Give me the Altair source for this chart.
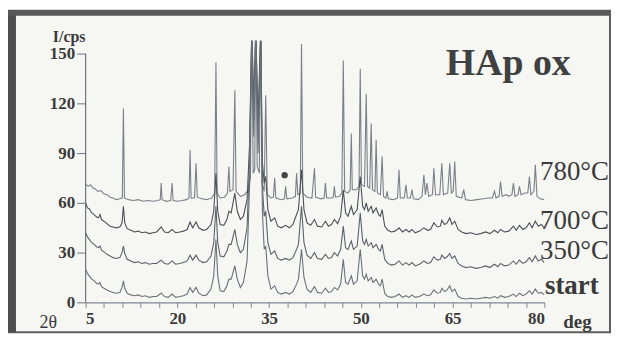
import altair as alt
import pandas as pd

# ---------------- data ----------------
series_names = ["780°C", "700°C", "350°C", "start"]
series_colors = ["#7b8088", "#4d5058", "#5c6269", "#6b7178"]

pts_780 = [(5.0,71.5),(5.4,70),(5.8,71),(6.2,69),(6.6,68.5),(7.0,67),(7.5,67.5),(8.0,65.5),(8.5,65),(9.0,63.5),(9.5,63),(10.0,62),(10.6,62.5),(11.0,63),(11.18,117),(11.35,63),(12.0,62),(12.8,61.5),(13.6,62),(14.4,61),(15.2,61.5),(16.0,61),(16.8,61.5),(17.2,62),(17.36,72),(17.5,62),(18.2,61),(18.9,61.5),(19.15,72),(19.3,61.5),(20.0,61),(20.8,61.5),(21.5,62),(21.9,63),(22.08,92),(22.25,63),(22.8,63),(23.06,84),(23.25,63.5),(24.0,62.5),(24.8,62),(25.6,63),(26.1,66),(26.31,145),(26.5,66),(27.0,63),(27.7,63.5),(28.2,66),(28.43,82),(28.6,67),(29.1,68),(29.4,128),(29.6,67),(30.3,64),(31.0,65),(31.6,68),(31.95,75),(32.17,170),(32.4,78),(32.65,80),(32.82,170),(33.05,82),(33.4,78),(33.63,170),(33.85,72),(34.2,67),(34.45,125),(34.7,65),(35.3,63),(35.7,63.5),(35.91,75),(36.1,63),(37.0,62),(37.5,62.5),(37.7,70),(37.9,62.5),(38.8,63),(39.3,64),(39.49,78),(39.7,65),(40.1,66),(40.3,156),(40.5,66),(41.2,63.5),(42.0,63),(42.42,81),(42.6,63.5),(43.5,62.5),(44.0,63),(44.21,72),(44.4,63),(45.2,63),(45.5,63.5),(45.67,70),(45.85,63.5),(46.5,64),(46.9,66),(47.13,146),(47.35,67),(47.9,66),(48.25,68),(48.44,102),(48.6,68),(49.3,68),(49.7,70),(49.9,141),(50.1,71),(50.6,70),(50.88,126),(51.1,70),(51.45,69),(51.69,108),(51.9,68),(52.3,67),(52.5,98),(52.7,66),(53.2,65),(53.48,88),(53.7,64),(54.1,63),(54.29,67),(54.5,62.5),(55.3,62),(56.0,63),(56.24,80),(56.45,63),(57.1,63),(57.38,71),(57.6,63),(58.1,63),(58.36,68),(58.6,62.5),(59.4,62),(60.0,64),(60.31,77),(60.55,65),(60.8,72),(61.1,64),(61.7,65),(61.94,81),(62.2,65),(62.9,65),(63.24,84),(63.5,65),(64.2,66),(64.54,84),(64.8,66),(65.1,67),(65.35,85),(65.6,64),(66.5,63),(66.82,68),(67.1,62),(68.0,61.5),(69.0,62),(70.0,62.5),(70.8,63),(71.5,63),(71.86,67),(72.1,63),(72.6,64),(72.84,73),(73.1,64),(73.8,65),(74.2,64),(74.7,65),(74.95,72),(75.2,64),(75.7,65),(75.93,70),(76.2,65),(76.8,66),(77.3,66),(77.56,76),(77.8,65),(78.3,67),(78.53,83),(78.8,64),(79.3,62.5),(80.0,62)]

pts_700 = [(5.0,60),(5.3,57),(5.6,56.5),(6.0,54),(6.4,53),(6.8,51.5),(7.1,51),(7.35,53),(7.6,50),(8.0,49),(8.5,47.5),(9.0,46),(9.5,45.5),(10.0,45),(10.6,45.5),(10.95,48),(11.18,58),(11.4,48),(11.8,44.5),(12.4,43.5),(13.0,42.5),(13.6,43),(14.2,42),(14.8,42.5),(15.4,41.5),(16.0,42),(16.6,42.5),(17.36,45.5),(17.9,42.5),(18.5,42),(19.15,44),(19.7,42),(20.4,42.5),(21.0,43),(21.6,44),(22.08,48.5),(22.5,45),(23.06,48.5),(23.5,45),(24.2,43.5),(24.8,44),(25.5,47),(25.95,55),(26.31,78),(26.6,55),(27.0,47),(27.6,46.5),(28.1,50),(28.43,55),(28.8,54),(29.4,66),(29.8,55),(30.3,50),(30.8,52),(31.4,62),(31.8,95),(32.17,165),(32.5,120),(32.82,165),(33.2,110),(33.63,165),(33.9,85),(34.2,72),(34.45,76),(34.8,56),(35.3,49),(35.91,51),(36.4,46),(37.0,45),(37.7,46.5),(38.3,45),(38.9,47),(39.49,53),(39.8,56),(40.3,80),(40.7,56),(41.2,48),(41.8,46.5),(42.42,50),(42.9,46),(43.6,45.5),(44.21,49),(44.7,46),(45.2,47),(45.67,50),(46.2,47.5),(46.7,52),(47.13,68),(47.5,54),(47.9,52),(48.44,58),(48.8,53),(49.4,56),(49.9,76),(50.3,58),(50.6,56),(50.88,60),(51.2,55),(51.69,58),(52.0,54),(52.5,57),(52.9,53),(53.2,52),(53.48,56),(53.9,46),(54.4,43.5),(55.0,42.5),(55.6,43),(56.24,45),(56.8,42.5),(57.38,44),(57.9,42.5),(58.36,44),(58.9,42),(59.6,43),(60.31,45),(60.9,43.5),(61.4,44),(61.94,48),(62.5,45.5),(63.0,46),(63.24,49.5),(63.7,47),(64.1,48),(64.54,51),(64.9,47),(65.35,49),(65.9,44),(66.5,42.5),(67.2,41.5),(68.0,42),(68.8,41),(69.6,41.5),(70.4,42.5),(71.1,41.5),(71.86,43.5),(72.4,42),(72.84,44),(73.5,42.5),(74.2,43),(74.95,46),(75.4,43.5),(75.93,46.5),(76.5,44),(77.0,45),(77.56,48),(78.0,45),(78.53,49),(79.0,46),(79.5,47),(80.0,45)]

pts_350 = [(5.0,42),(5.3,39.5),(5.6,38),(6.0,36),(6.4,35),(6.8,33.5),(7.1,33),(7.35,34),(7.6,31.5),(8.0,30.5),(8.5,29),(9.0,28),(9.5,27),(10.0,26.5),(10.6,27),(10.95,30),(11.18,34),(11.4,29.5),(11.8,26),(12.4,25),(13.0,24),(13.6,24.5),(14.2,23.5),(14.8,24),(15.4,23),(16.0,23.5),(16.6,23.5),(17.36,25.5),(17.9,23.5),(18.5,23),(19.15,25),(19.7,23),(20.4,23.5),(21.0,24),(21.6,25),(22.08,28.5),(22.5,25.5),(23.06,28.5),(23.5,25.5),(24.2,24),(24.8,24.5),(25.5,28),(25.95,36),(26.31,58),(26.6,36),(27.0,28),(27.6,27.5),(28.1,31),(28.43,35),(28.8,35),(29.4,44),(29.8,35),(30.3,30),(30.8,32),(31.4,45),(31.8,85),(32.17,165),(32.5,110),(32.82,165),(33.2,100),(33.63,165),(33.9,70),(34.2,52),(34.45,55),(34.8,36),(35.3,29),(35.91,31),(36.4,26.5),(37.0,25.5),(37.7,26.5),(38.3,25.5),(38.9,27),(39.49,32),(39.8,35),(40.3,58),(40.7,36),(41.2,28.5),(41.8,26.5),(42.42,30),(42.9,26.5),(43.6,26),(44.21,29),(44.7,26.5),(45.2,27),(45.67,30),(46.2,28),(46.7,32),(47.13,46),(47.5,33),(47.9,32),(48.44,37),(48.8,32),(49.4,34),(49.9,54),(50.3,37),(50.6,35),(50.88,38),(51.2,34),(51.69,36),(52.0,33),(52.5,35),(52.9,32),(53.2,31),(53.48,35),(53.9,26),(54.4,23.5),(55.0,22.5),(55.6,23),(56.24,25),(56.8,22.5),(57.38,24),(57.9,22.5),(58.36,24),(58.9,22),(59.6,23),(60.31,25),(60.9,23.5),(61.4,24),(61.94,27.5),(62.5,25.5),(63.0,26),(63.24,28.5),(63.7,26.5),(64.1,27.5),(64.54,29.5),(64.9,26.5),(65.35,28),(65.9,23.5),(66.5,22),(67.2,21),(68.0,21.5),(68.8,20.5),(69.6,21),(70.4,22),(71.1,21),(71.86,23),(72.4,21.5),(72.84,23.5),(73.5,22),(74.2,22.5),(74.95,25),(75.4,23),(75.93,25.5),(76.5,23.5),(77.0,24.5),(77.56,27),(78.0,24.5),(78.53,28),(79.0,25),(79.5,26),(80.0,24)]

pts_start = [(5.0,20),(5.3,17.5),(5.6,16),(6.0,14),(6.4,13),(6.8,11.5),(7.1,11),(7.35,12),(7.6,9.5),(8.0,8.5),(8.5,7.5),(9.0,6.5),(9.5,6),(10.0,5.5),(10.6,6),(10.95,9),(11.18,13),(11.4,8.5),(11.8,5.5),(12.4,4.5),(13.0,4),(13.6,4.5),(14.2,3.5),(14.8,4),(15.4,3),(16.0,3.5),(16.6,3.5),(17.36,5.5),(17.9,3.5),(18.5,3),(19.15,5),(19.7,3),(20.4,3.5),(21.0,4),(21.6,5),(22.08,9),(22.5,6),(23.06,9),(23.5,5.5),(24.2,4),(24.8,4.5),(25.5,8),(25.95,16),(26.31,38),(26.6,16),(27.0,7),(27.6,6.5),(28.1,10),(28.43,14),(28.8,14),(29.4,22),(29.8,14),(30.3,9),(30.8,12),(31.4,25),(31.8,70),(32.17,165),(32.5,100),(32.82,165),(33.2,90),(33.63,150),(33.9,55),(34.2,32),(34.45,34),(34.8,16),(35.3,8),(35.91,10),(36.4,6),(37.0,5),(37.7,6),(38.3,5),(38.9,6.5),(39.49,11),(39.8,14),(40.3,32),(40.7,15),(41.2,8),(41.8,6),(42.42,9.5),(42.9,6),(43.6,5.5),(44.21,8.5),(44.7,6),(45.2,6.5),(45.67,9),(46.2,7.5),(46.7,11),(47.13,26),(47.5,12),(47.9,11),(48.44,16),(48.8,11),(49.4,13),(49.9,32),(50.3,16),(50.6,14),(50.88,17),(51.2,13),(51.69,15),(52.0,12),(52.5,14),(52.9,11),(53.2,10),(53.48,14),(53.9,5.5),(54.4,3.5),(55.0,3),(55.6,3.5),(56.24,5),(56.8,3),(57.38,4),(57.9,3),(58.36,4.5),(58.9,3),(59.6,3.5),(60.31,5),(60.9,4),(61.4,4.5),(61.94,7.5),(62.5,5.5),(63.0,6),(63.24,8.5),(63.7,6.5),(64.1,7.5),(64.54,10),(64.9,6.5),(65.35,8),(65.9,3.5),(66.5,2.5),(67.2,2),(68.0,2.5),(68.8,2),(69.6,2.5),(70.4,3),(71.1,2.5),(71.86,3.5),(72.4,2.5),(72.84,4),(73.5,3),(74.2,3.5),(74.95,5),(75.4,3.5),(75.93,5.5),(76.5,4),(77.0,5),(77.56,7),(78.0,5),(78.53,8),(79.0,5.5),(79.5,6),(80.0,4.5)]

x_tick_values = list(range(5, 81, 3))
x_label_values = [5, 20, 35, 50, 65, 80]
y_tick_values = [0, 30, 60, 90, 120, 150]

marker_deg = [37.54]
marker_cps = [76.8]

temp_labels = ["780°C", "700°C", "350°C"]
temp_label_deg = [79.3, 79.3, 79.3]
temp_label_cps = [78.5, 48.8, 31.2]
start_label = ["start"]
start_label_deg = [80.1]
start_label_cps = [9.8]
title_text = ["HAp ox"]
title_deg = [74.1]
title_cps = [144.0]

# ---------------- build tables ----------------
rows = []
for name, pts in zip(series_names, [pts_780, pts_700, pts_350, pts_start]):
    for i, (d, c) in enumerate(pts):
        rows.append({"series": name, "idx": i, "deg": d, "cps": c})
df = pd.DataFrame(rows)

SERIF = "Liberation Serif"
TXT = "#3a3a3a"
label_expr = "indexof([" + ",".join(str(v) for v in x_label_values) + "], datum.value) >= 0 ? datum.label : ''"

x_axis = alt.Axis(values=x_tick_values, labelExpr=label_expr, grid=False, zindex=1,
                  domainColor="#7d8796", domainWidth=1.2, tickColor="#7d8796",
                  tickSize=5, labelFont=SERIF, labelFontSize=17, labelFontWeight="bold",
                  labelColor=TXT, labelPadding=3, labelOverlap=False,
                  title="2θ", titleFont=SERIF, titleFontSize=18, titleFontWeight="normal",
                  titleColor=TXT, titleX=-38, titleY=20, titleAlign="center",
                  titleBaseline="middle")
y_axis = alt.Axis(values=y_tick_values, domain=False, grid=False, zindex=1,
                  tickColor="#6f7580", tickSize=9, labelPadding=2,
                  labelFont=SERIF, labelFontSize=17, labelFontWeight="bold", labelColor=TXT,
                  title="I/cps", titleAngle=0, titleX=-17, titleY=-4,
                  titleAlign="center", titleBaseline="middle", titleFont=SERIF,
                  titleFontSize=16, titleFontWeight="bold", titleColor=TXT)

xs = alt.Scale(domain=[5, 80], nice=False, zero=False)
ys = alt.Scale(domain=[0, 158], nice=False)

def X(f="deg"):
    return alt.X(f + ":Q", scale=xs, axis=x_axis)

def Y(f="cps"):
    return alt.Y(f + ":Q", scale=ys, axis=y_axis)

one = pd.DataFrame({"k": [0]})

frame_fill = alt.Chart(one).mark_rect(fill="#f6f6f3", stroke="#5e5e5e", strokeWidth=2).encode(
    x=alt.value(-79), x2=alt.value(527), y=alt.value(-30), y2=alt.value(293))
frame_left = alt.Chart(one).mark_rect(fill="#4e4e4e").encode(
    x=alt.value(-79), x2=alt.value(-70), y=alt.value(-30), y2=alt.value(293))
frame_top = alt.Chart(one).mark_rect(fill="#5a5a5a").encode(
    x=alt.value(-79), x2=alt.value(527), y=alt.value(-30), y2=alt.value(-25))

yaxis_df = pd.DataFrame({"deg": [5], "lo": [0], "hi": [150]})
yaxis_rule = alt.Chart(yaxis_df).mark_rule(color="#6f7580", strokeWidth=1.2).encode(
    x=X(), y=Y("lo"), y2="hi:Q")

lines = alt.Chart(df).mark_line(strokeWidth=1.1, clip=True).encode(
    x=X(), y=Y(),
    color=alt.Color("series:N", scale=alt.Scale(domain=series_names, range=series_colors), legend=None),
    order="idx:Q")

marker = alt.Chart(pd.DataFrame({"deg": marker_deg, "cps": marker_cps})).mark_circle(
    size=40, color="#444444", opacity=1).encode(x=X(), y=Y())

temp_text = alt.Chart(pd.DataFrame({"deg": temp_label_deg, "cps": temp_label_cps, "t": temp_labels})).mark_text(
    font=SERIF, fontSize=27, color=TXT, align="left", baseline="middle").encode(x=X(), y=Y(), text="t:N")
start_text = alt.Chart(pd.DataFrame({"deg": start_label_deg, "cps": start_label_cps, "t": start_label})).mark_text(
    font=SERIF, fontSize=27, fontWeight="bold", color=TXT, align="left", baseline="middle").encode(x=X(), y=Y(), text="t:N")
title = alt.Chart(pd.DataFrame({"deg": title_deg, "cps": title_cps, "t": title_text})).mark_text(
    font=SERIF, fontSize=38, fontWeight="bold", color="#404040", align="center", baseline="middle").encode(x=X(), y=Y(), text="t:N")
deg_text = alt.Chart(one).mark_text(font=SERIF, fontSize=19, fontWeight="bold", color=TXT,
                                    align="left", baseline="middle", text="deg").encode(
    x=alt.value(480), y=alt.value(283))

chart = alt.layer(frame_fill, frame_left, frame_top, yaxis_rule, lines, marker,
                  temp_text, start_text, title, deg_text).properties(
    width=461, height=263,
    padding={"left": 78, "top": 32, "right": 67, "bottom": 31},
    autosize=alt.AutoSizeParams(type="none"),
    background="white",
).configure_view(stroke=None)

chart.save("out.html", embed_options={"renderer": "svg", "actions": False})
